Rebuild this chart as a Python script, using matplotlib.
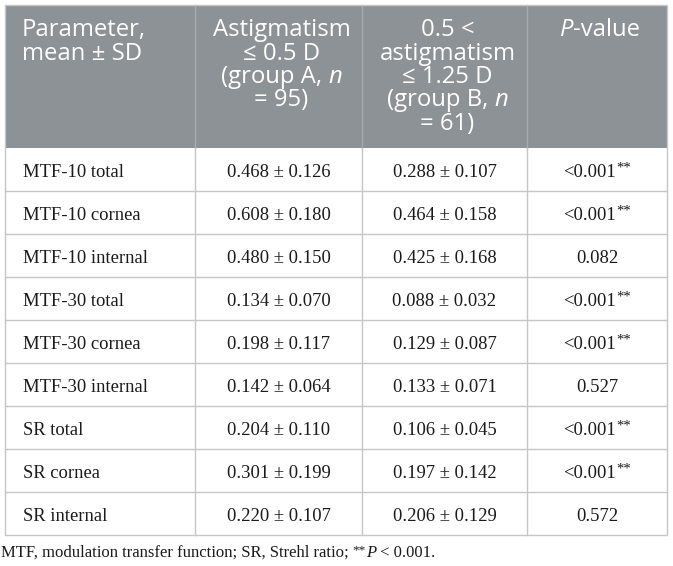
import matplotlib
matplotlib.use("Agg")
import matplotlib.pyplot as plt
from matplotlib.patches import Rectangle

# ---- data ----
parameters = ["MTF-10 total", "MTF-10 cornea", "MTF-10 internal",
              "MTF-30 total", "MTF-30 cornea", "MTF-30 internal",
              "SR total", "SR cornea", "SR internal"]
group_a = ["0.468 ± 0.126", "0.608 ± 0.180", "0.480 ± 0.150",
           "0.134 ± 0.070", "0.198 ± 0.117", "0.142 ± 0.064",
           "0.204 ± 0.110", "0.301 ± 0.199", "0.220 ± 0.107"]
group_b = ["0.288 ± 0.107", "0.464 ± 0.158", "0.425 ± 0.168",
           "0.088 ± 0.032", "0.129 ± 0.087", "0.133 ± 0.071",
           "0.106 ± 0.045", "0.197 ± 0.142", "0.206 ± 0.129"]
p_values = ["<0.001", "<0.001", "0.082", "<0.001", "<0.001", "0.527",
            "<0.001", "<0.001", "0.572"]
p_marks = ["**", "**", "", "**", "**", "", "**", "**", ""]

# header lines: list of runs (text, italic)
header_cols = [
    [[("Parameter,", False)], [("mean ± SD", False)]],
    [[("Astigmatism", False)], [("≤ 0.5 D", False)],
     [("(group A, ", False), ("n", True)], [("= 95)", False)]],
    [[("0.5 <", False)], [("astigmatism", False)], [("≤ 1.25 D", False)],
     [("(group B, ", False), ("n", True)], [("= 61)", False)]],
    [[("P", True), ("-value", False)]],
]
footnote = [("MTF, modulation transfer function; SR, Strehl ratio; ", False, 0),
            ("**", False, 1), ("P", True, 0), (" < 0.001.", False, 0)]

# ---- layout ----
W, H = 673, 566
fig = plt.figure(figsize=(W / 100, H / 100), dpi=100)
ax = fig.add_axes([0, 0, 1, 1])
ax.set_xlim(0, W)
ax.set_ylim(H, 0)
ax.axis("off")
fig.canvas.draw()
renderer = fig.canvas.get_renderer()

left, right, top, head_bot = 5, 667, 5, 148
col_x = [left, 195, 362, 527, right]
row_h = 43
n_rows = len(parameters)
bottom = head_bot + row_h * n_rows

HEAD_FILL = "#8c9295"
HEAD_LINE = "#a6abae"
GRID = "#c6c6c6"
SANS = ["Open Sans", "DejaVu Sans"]
SERIF = ["Liberation Serif", "DejaVu Serif"]

ax.add_patch(Rectangle((left, top), right - left, head_bot - top,
                       facecolor=HEAD_FILL, edgecolor="none", zorder=1))
for x in col_x[1:-1]:
    ax.plot([x, x], [top, head_bot], color=HEAD_LINE, lw=1.0, zorder=2)
    ax.plot([x, x], [head_bot, bottom], color=GRID, lw=1.0, zorder=2)
for i in range(1, n_rows):
    y = head_bot + i * row_h
    ax.plot([left, right], [y, y], color=GRID, lw=1.0, zorder=2)
ax.add_patch(Rectangle((left, top), right - left, bottom - top,
                       facecolor="none", edgecolor=GRID, lw=1.0, zorder=3))


def draw_runs(x, y, runs, ha, family, size, color, sup_size=None, sup_rise=5):
    texts = []
    for item in runs:
        txt, ital = item[0], item[1]
        sup = item[2] if len(item) > 2 else 0
        s = sup_size if (sup and sup_size) else size
        t = ax.text(0, y - (sup_rise if sup else 0), txt, family=family, fontsize=s,
                    style="italic" if ital else "normal", color=color,
                    ha="left", va="baseline", zorder=5)
        texts.append(t)
    widths = [t.get_window_extent(renderer).width for t in texts]
    total = sum(widths)
    if ha == "center":
        start = x - total / 2
    elif ha == "right":
        start = x - total
    else:
        start = x
    for t, w in zip(texts, widths):
        t.set_x(start)
        start += w


# header text
head_base0, head_pitch = 36, 23.5
head_size = 17.2
for c, lines in enumerate(header_cols):
    for j, runs in enumerate(lines):
        y = head_base0 + j * head_pitch
        if c == 0:
            draw_runs(col_x[0] + 17, y, runs, "left", SANS, head_size, "white")
        else:
            cx = (col_x[c] + col_x[c + 1]) / 2 + 3
            draw_runs(cx, y, runs, "center", SANS, head_size, "white")

# body text
body_size = 13.4
for i in range(n_rows):
    yb = head_bot + i * row_h + 29
    draw_runs(col_x[0] + 18, yb, [(parameters[i], False)], "left", SERIF, body_size, "#1a1a1a")
    draw_runs((col_x[1] + col_x[2]) / 2, yb, [(group_a[i], False)], "center", SERIF, body_size, "#1a1a1a")
    draw_runs((col_x[2] + col_x[3]) / 2, yb, [(group_b[i], False)], "center", SERIF, body_size, "#1a1a1a")
    runs = [(p_values[i], False)]
    if p_marks[i]:
        runs.append((p_marks[i], False, 1))
    draw_runs((col_x[3] + col_x[4]) / 2, yb, runs, "center", SERIF, body_size, "#1a1a1a",
              sup_size=10.5, sup_rise=5)

# footnote
draw_runs(1, 557, footnote, "left", SERIF, 12.0, "#1a1a1a", sup_size=9.5, sup_rise=4)

fig.savefig("out.png", dpi=100)
